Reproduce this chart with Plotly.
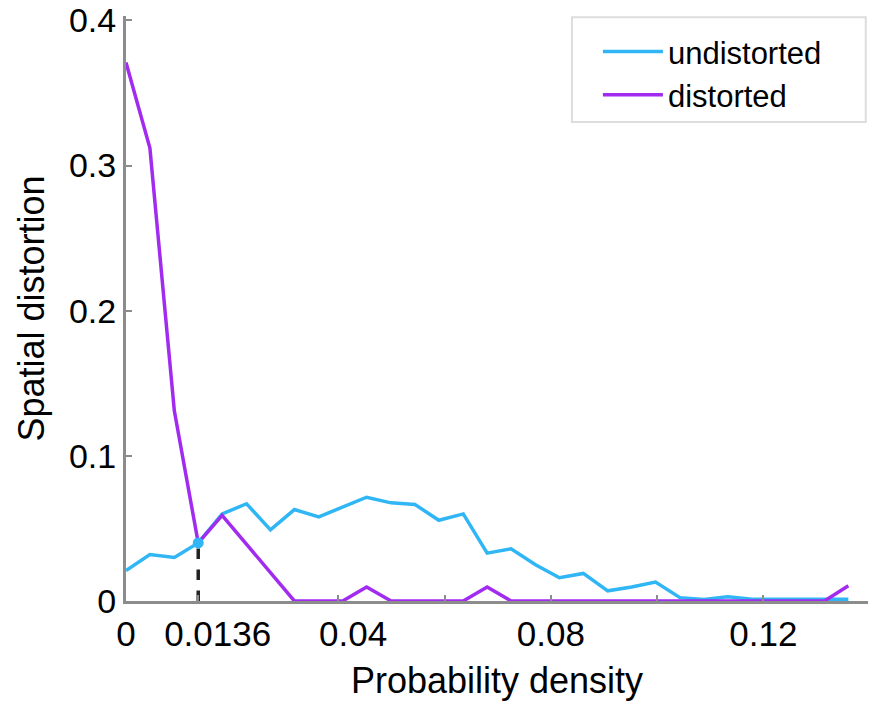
import plotly.graph_objects as go

# bin centres of the probability density axis
density = [0, 0.0045, 0.0091, 0.0136, 0.0181, 0.0227, 0.0272, 0.0317, 0.0363, 0.0408,
           0.0453, 0.0499, 0.0544, 0.0589, 0.0635, 0.0680, 0.0725, 0.0771, 0.0816, 0.0861,
           0.0907, 0.0952, 0.0997, 0.1043, 0.1088, 0.1133, 0.1179, 0.1224, 0.1269, 0.1315,
           0.1360]

undistorted = [0.021, 0.032, 0.030, 0.040, 0.060, 0.067, 0.049, 0.063, 0.058, 0.065,
               0.0715, 0.0676, 0.0665, 0.0556, 0.060, 0.033, 0.036, 0.025, 0.016, 0.019,
               0.007, 0.0096, 0.013, 0.0023, 0.001, 0.003, 0.0012, 0.0012, 0.0012, 0.0012,
               0.0012]

distorted = [0.371, 0.312, 0.131, 0.040, 0.059, 0.039, 0.020, 0, 0, 0,
             0.0097, 0, 0, 0, 0, 0.0097, 0, 0, 0, 0,
             0, 0, 0, 0, 0, 0, 0, 0, 0, 0,
             0.0105]

# crossing point marked on the x axis
cross_x = 0.0136
cross_y = 0.040

x_ticks = [0, 0.0136, 0.04, 0.08, 0.12]
x_labels = ["0", "\u00a0\u00a0\u00a0\u00a00.0136", "\u00a0\u00a0\u00a00.04", "0.08", "0.12"]
y_ticks = [0, 0.1, 0.2, 0.3, 0.4]
y_labels = ["0", "0.1", "0.2", "0.3", "0.4"]

blue = "#30B6F5"
purple = "#A22BF0"
axis_grey = "#8c8c8c"
font = "Liberation Sans, Arial, sans-serif"

fig = go.Figure()

fig.add_trace(go.Scatter(
    x=[cross_x, cross_x], y=[0, cross_y], mode="lines",
    line=dict(color="#222222", width=3.5, dash="dash"),
    showlegend=False, hoverinfo="skip",
))
fig.add_trace(go.Scatter(
    x=density, y=undistorted, mode="lines", name="undistorted",
    line=dict(color=blue, width=3.5),
))
fig.add_trace(go.Scatter(
    x=density, y=distorted, mode="lines", name="distorted",
    line=dict(color=purple, width=3.5),
))
fig.add_trace(go.Scatter(
    x=[cross_x], y=[cross_y], mode="markers",
    marker=dict(color=blue, size=11),
    showlegend=False, hoverinfo="skip",
))

# legend frame drawn separately so it can be wider than the entries
fig.add_shape(
    type="rect", xref="paper", yref="paper",
    x0=0.601, x1=0.997, y0=0.819, y1=0.998,
    line=dict(color="#dddddd", width=2), fillcolor="white", layer="below",
)

fig.update_layout(
    width=874, height=702,
    margin=dict(l=118, r=14, t=8, b=109),
    plot_bgcolor="white", paper_bgcolor="white",
    font=dict(family=font, size=30, color="black"),
    legend=dict(
        x=0.636, xanchor="left", y=0.985, yanchor="top",
        borderwidth=0, bgcolor="rgba(0,0,0,0)",
        font=dict(size=31), itemwidth=60,
    ),
)

fig.update_xaxes(
    range=[0, 0.1397], automargin=False, tickangle=0,
    tickvals=x_ticks, ticktext=x_labels,
    ticks="inside", ticklen=6, tickwidth=2, tickcolor=axis_grey,
    minor=dict(tickvals=[0.06, 0.10], ticks="inside", ticklen=6, tickwidth=2, tickcolor=axis_grey),
    showline=True, linecolor=axis_grey, linewidth=3,
    showgrid=False, zeroline=False,
    title=dict(text="Probability density", standoff=16),
    tickfont=dict(size=35), ticklabeloverflow="allow",
)
fig.update_yaxes(
    range=[0, 0.403], automargin=False,
    tickvals=y_ticks, ticktext=y_labels,
    ticks="inside", ticklen=6, tickwidth=2, tickcolor=axis_grey,
    showline=True, linecolor=axis_grey, linewidth=3,
    showgrid=False, zeroline=False,
    title=dict(text="Spatial distortion", standoff=14),
    tickfont=dict(size=34), ticklabeloverflow="allow",
)

fig.write_html("out.html")
